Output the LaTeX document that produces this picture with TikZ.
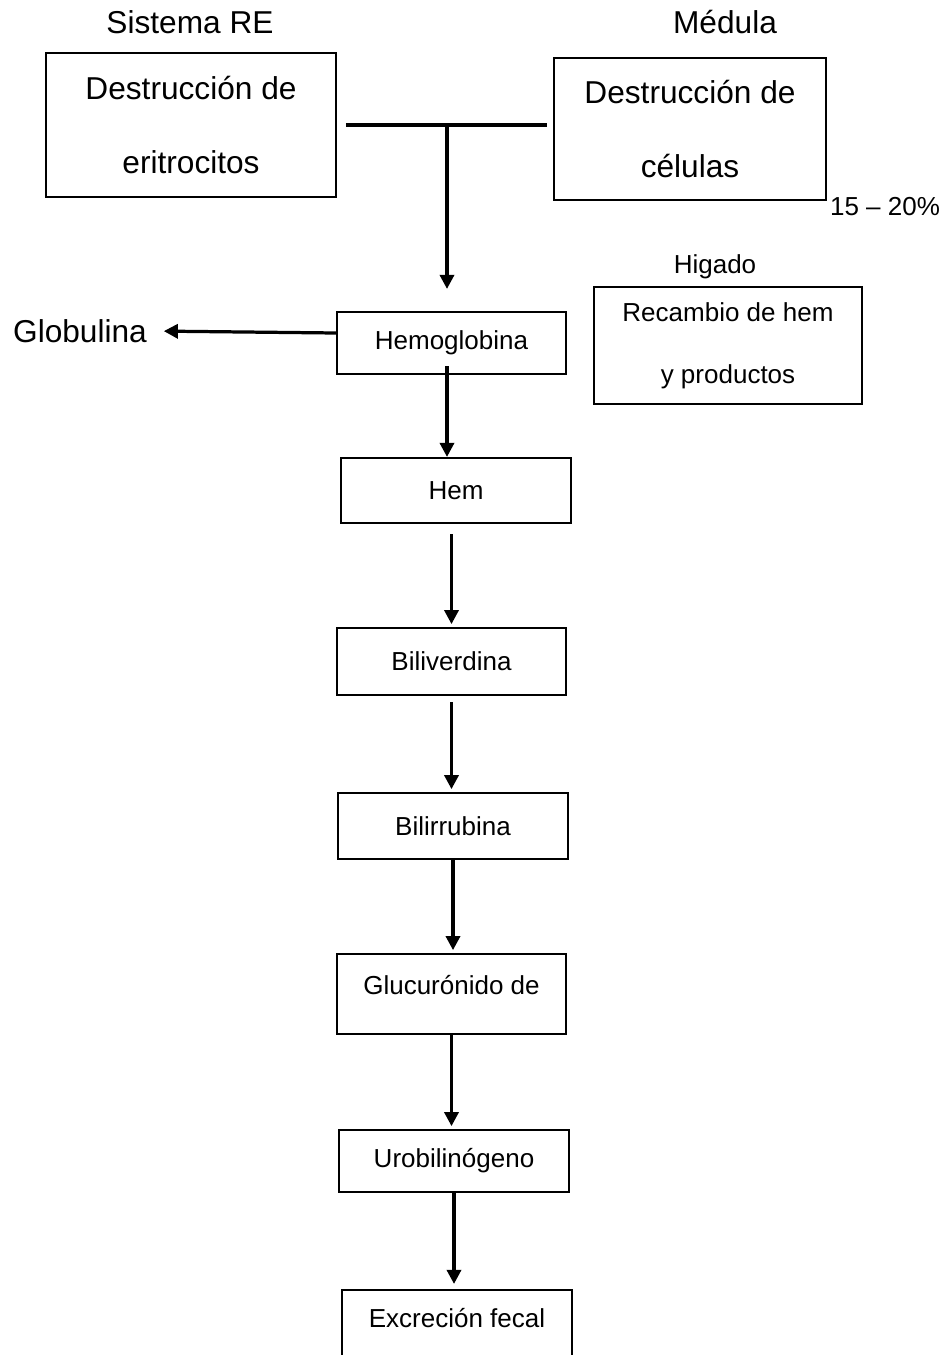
\documentclass[tikz,border=0pt]{standalone}
\usepackage{fontspec}
\setmainfont{Liberation Sans}
\usetikzlibrary{arrows.meta, positioning}

\begin{document}
\begin{tikzpicture}[
    x=0.025cm, y=-0.025cm,
    big/.style={font=\fontsize{22.5}{52}\selectfont},
    small/.style={font=\fontsize{18.5}{44}\selectfont},
    bx/.style={draw, line width=1.5pt, inner sep=0pt, align=center},
    stepbx/.style={bx, small, minimum width=5.73cm},
    arr/.style={-{Triangle[length=10pt, width=10pt]}, line width=2.3pt},
    bar/.style={line width=3.2pt},
]
\useasboundingbox (0,0) rectangle (948,1355);

% Top: sources
\node[big] (sre) at (190, 22) {Sistema RE};
\node[big] (medl) at (725, 22) {Médula};
\node[bx, big, minimum width=7.25cm, minimum height=3.6cm] (re) at (191, 125) {Destrucción de\\eritrocitos};
\node[bx, big, minimum width=6.8cm, minimum height=3.55cm] (med) at (690, 129) {Destrucción de\\células};
\node[small] (pct) at (885, 207) {15 – 20\%};

% Liver
\node[small] (hig) at (715, 267) {Higado};
\node[bx, small, minimum width=6.7cm, minimum height=2.925cm] (recam) at (728, 345.5) {Recambio de hem\\y productos};

% Main chain
\node[big] (glob) at (80, 331) {Globulina};
\node[stepbx, minimum height=1.55cm] (hemog) at (451.5, 343) {Hemoglobina};
\node[stepbx, minimum height=1.625cm] (hem) at (456, 490.5) {Hem};
\node[stepbx, minimum height=1.675cm] (bilv) at (451.5, 661.5) {Biliverdina};
\node[stepbx, minimum height=1.65cm] (bilr) at (453, 826) {Bilirrubina};
\node[stepbx, anchor=base, text height=1cm, text depth=0.99cm] (gluc) at (451.5, 994) {Glucurónido de};
\node[stepbx, minimum height=1.55cm] (urob) at (454, 1161) {Urobilinógeno};
\node[stepbx, anchor=base, text height=0.93cm, text depth=1.05cm] (excr) at (457, 1327) {Excreción fecal};

% === ARROWS ===
\coordinate (tj) at (447, 125);
\draw[bar, shorten <=0.22cm, shorten >=0.15cm] (re.east) -- (re.east -| med.west);
\draw[arr, shorten >=0.55cm] (tj) -- (tj |- hemog.north);
\draw[arr, shorten >=0.3cm] ([yshift=0.25cm]hemog.west) -- (glob.east);

\draw[arr] ([yshift=0.22cm]hemog.south -| tj) -- (tj |- hem.north);
\draw[arr, shorten <=0.25cm, shorten >=0.07cm] (bilv.north |- hem.south) -- (bilv.north);
\draw[arr, shorten <=0.15cm, shorten >=0.07cm] (bilv.south) -- (bilv.south |- bilr.north);
\draw[arr, shorten >=0.07cm] (bilr.south) -- (bilr.south |- gluc.north);
\draw[arr, shorten >=0.07cm] (gluc.south) -- (gluc.south |- urob.north);
\draw[arr, shorten >=0.12cm] (urob.south) -- (urob.south |- excr.north);

\end{tikzpicture}
\end{document}
